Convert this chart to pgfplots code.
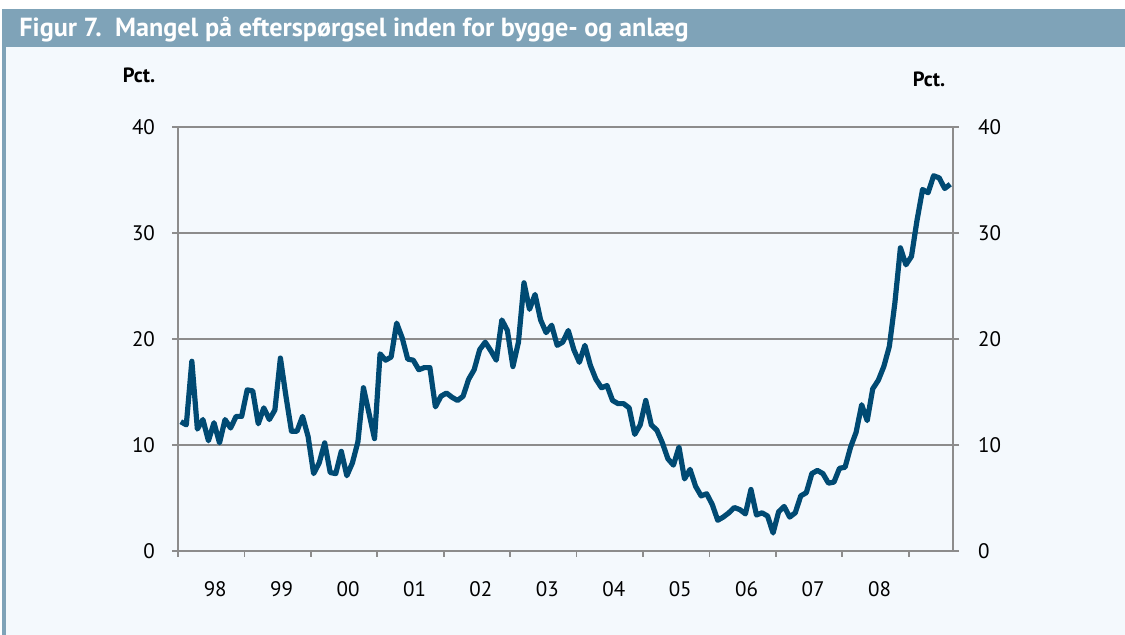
\documentclass[border=0pt]{standalone}
\usepackage{fontspec}
\setmainfont{PT Sans}
\usepackage{pgfplots}
\usepackage{pgfplotstable}
\pgfplotsset{compat=1.18}
\definecolor{barblue}{HTML}{7FA3B8}
\definecolor{panel}{HTML}{F4F9FD}
\definecolor{navy}{HTML}{004A73}
\definecolor{axgray}{HTML}{8C8C8C}

% monthly, jan 1998 = 0
\pgfplotstableread{
m v
0 12.2
1 11.9
2 17.9
3 11.5
4 12.4
5 10.4
6 12.1
7 10.2
8 12.4
9 11.6
10 12.7
11 12.7
12 15.2
13 15.1
14 12.0
15 13.5
16 12.4
17 13.3
18 18.2
19 14.6
20 11.3
21 11.3
22 12.7
23 10.8
24 7.3
25 8.3
26 10.2
27 7.4
28 7.3
29 9.4
30 7.1
31 8.3
32 10.3
33 15.4
34 13.0
35 10.6
36 18.6
37 18.0
38 18.3
39 21.5
40 20.1
41 18.1
42 18.0
43 17.1
44 17.3
45 17.3
46 13.6
47 14.6
48 14.9
49 14.5
50 14.2
51 14.6
52 16.2
53 17.1
54 19.0
55 19.7
56 18.9
57 18.0
58 21.8
59 20.8
60 17.4
61 19.7
62 25.3
63 22.8
64 24.2
65 21.8
66 20.6
67 21.3
68 19.4
69 19.7
70 20.8
71 19.0
72 17.8
73 19.4
74 17.5
75 16.2
76 15.4
77 15.6
78 14.2
79 13.9
80 13.9
81 13.5
82 11.0
83 11.9
84 14.2
85 11.9
86 11.4
87 10.2
88 8.7
89 8.1
90 9.8
91 6.8
92 7.7
93 6.1
94 5.2
95 5.4
96 4.4
97 2.9
98 3.2
99 3.6
100 4.1
101 3.9
102 3.5
103 5.8
104 3.4
105 3.6
106 3.3
107 1.7
108 3.7
109 4.2
110 3.2
111 3.6
112 5.2
113 5.5
114 7.3
115 7.6
116 7.3
117 6.4
118 6.5
119 7.8
120 7.9
121 9.8
122 11.2
123 13.8
124 12.3
125 15.3
126 16.1
127 17.4
128 19.3
129 23.4
130 28.6
131 27.0
132 27.8
133 31.2
134 34.1
135 33.8
136 35.4
137 35.2
138 34.2
139 34.6
}\mangel

\pgfplotsset{
  panelaxis/.style={
    at={(89pt,42pt)}, anchor=south west, scale only axis,
    width=387.5pt, height=212pt,
    xmin=-0.5, xmax=139.5, ymin=0, ymax=40,
    ytick={0,10,...,40},
    tick align=outside, major tick length=3pt, minor tick length=3pt,
    axis line style={axgray, line width=0.8pt},
    tick style={axgray, line width=0.8pt},
    ticklabel style={font=\fontsize{10.5}{12}\selectfont, text=black},
    /pgf/number format/assume math mode=true,
  }
}

\begin{document}
\begin{tikzpicture}
\useasboundingbox (0,0) rectangle (562.5pt,317.5pt);
\fill[white] (0,0) rectangle (562.5pt,317.5pt);
\fill[panel] (1pt,0) rectangle (562.5pt,294pt);
\fill[barblue] (1pt,294pt) rectangle (562.5pt,313pt);
\fill[barblue] (1pt,0) rectangle (3pt,294pt);
\node[anchor=base west, text=white, inner sep=0, font=\bfseries\fontsize{13.1}{15}\selectfont] at (9.5pt,299pt) {Figur 7.\ \ Mangel på efterspørgsel inden for bygge- og anlæg};
\node[anchor=base, inner sep=0, font=\bfseries\fontsize{10.3}{12}\selectfont] at (69.5pt,276pt) {Pct.};
\node[anchor=base, inner sep=0, font=\bfseries\fontsize{10.3}{12}\selectfont] at (464.5pt,274pt) {Pct.};

\begin{axis}[panelaxis,
  axis x line*=bottom, axis y line*=left,
  xtick={-0.5,11.5,...,131.5}, xticklabels={},
  extra x ticks={5.5,17.5,...,125.5},
  extra x tick labels={98,99,00,01,02,03,04,05,06,07,08},
  extra x tick style={major tick length=0pt, xticklabel style={yshift=-11.5pt, xshift=2pt}},
  ymajorgrids, major grid style={axgray, line width=0.8pt},
  yticklabel style={xshift=-5pt},
]
\addplot[navy, line width=2.6pt, line join=round] table[x=m, y=v]{\mangel};
\end{axis}

\begin{axis}[panelaxis,
  hide x axis, axis y line*=right,
  yticklabel style={xshift=6pt},
]
\addplot[draw=none] coordinates {(0,0)};
\end{axis}
\end{tikzpicture}
\end{document}
